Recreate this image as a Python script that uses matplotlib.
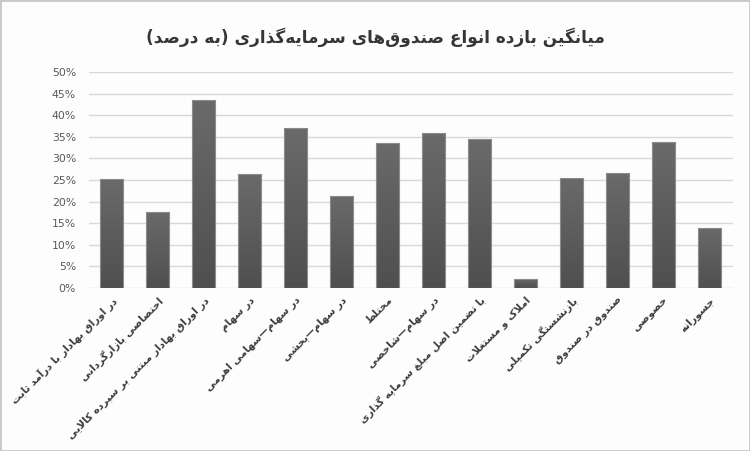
import numpy as np
import matplotlib
matplotlib.use('Agg')
from matplotlib import pyplot as plt
from matplotlib.colors import LinearSegmentedColormap
from matplotlib.patches import Rectangle
from matplotlib.ticker import PercentFormatter

title = 'میانگین بازده انواع صندوق\u200cهای سرمایه\u200cگذاری (به درصد)'
labels = [
    'در اوراق بهادار با درآمد ثابت',
    'اختصاصی بازارگردانی',
    'در اوراق بهادار مبتنی بر سپرده کالایی',
    'در سهام',
    'در سهام—سهامی اهرمی',
    'در سهام—بخشی',
    'مختلط',
    'در سهام—شاخصی',
    'با تضمین اصل مبلغ سرمایه گذاری',
    'املاک و مستغلات',
    'بازنشستگی تکمیلی',
    'صندوق در صندوق',
    'خصوصی',
    'جسورانه',
]
values = [0.252, 0.175, 0.434, 0.263, 0.370, 0.213, 0.335, 0.359,
          0.344, 0.022, 0.254, 0.267, 0.337, 0.139]
yticks = np.arange(0, 0.51, 0.05)

# no text shaping in matplotlib -> map letters to presentation forms by hand
DUAL = {'ب': 0xFE8F, 'ت': 0xFE95, 'ث': 0xFE99, 'ج': 0xFE9D, 'ح': 0xFEA1,
        'خ': 0xFEA5, 'س': 0xFEB1, 'ش': 0xFEB5, 'ص': 0xFEB9, 'ض': 0xFEBD,
        'ط': 0xFEC1, 'ظ': 0xFEC5, 'ع': 0xFEC9, 'غ': 0xFECD, 'ف': 0xFED1,
        'ق': 0xFED5, 'ل': 0xFEDD, 'م': 0xFEE1, 'ن': 0xFEE5, 'ه': 0xFEE9,
        'ی': 0xFBFC, 'ک': 0xFB8E, 'گ': 0xFB92, 'پ': 0xFB56, 'چ': 0xFB7A}
RIGHT = {'ا': 0xFE8D, 'آ': 0xFE81, 'د': 0xFEA9, 'ذ': 0xFEAB, 'ر': 0xFEAD,
         'ز': 0xFEAF, 'ژ': 0xFB8A, 'و': 0xFEED}


def fa(s):
    res = []
    i = 0
    n = len(s)
    while i < n:
        c = s[i]
        if c not in DUAL and c not in RIGHT:
            if c != '\u200c':
                res.append(c)
            i += 1
            continue
        prev = s[i - 1] if i > 0 else ''
        jp = prev in DUAL
        if c == 'ل' and i + 1 < n and s[i + 1] == 'ا':
            res.append('\uFEFC' if jp else '\uFEFB')
            i += 2
            continue
        nxt = s[i + 1] if i + 1 < n else ''
        jn = c in DUAL and (nxt in DUAL or nxt in RIGHT)
        b = DUAL.get(c, RIGHT.get(c))
        if jp and jn:
            b += 3
        elif jp:
            b += 1
        elif jn:
            b += 2
        res.append(chr(b))
        i += 1
    out = ''.join(res[::-1])
    return out.translate(str.maketrans('()', ')('))


plt.rcParams['font.family'] = ['DejaVu Sans']

fig = plt.figure(figsize=(7.5, 4.51), dpi=100, facecolor='#fdfdfd')
ax = fig.add_axes([0.118, 0.3614, 0.8587, 0.479])
ax.set_facecolor('#fdfdfd')

x = np.arange(len(values))
bars = ax.bar(x, values, width=0.5, color='none', edgecolor='#8c8c8c',
              linewidth=0.8, zorder=3)
cmap = LinearSegmentedColormap.from_list('g', ['#4f4f4f', '#6a6a6a'])
grad = np.linspace(0, 1, 256).reshape(-1, 1)
for b in bars:
    im = ax.imshow(grad, cmap=cmap, origin='lower', aspect='auto', zorder=2,
                   extent=[b.get_x(), b.get_x() + b.get_width(), 0, b.get_height()])
    im.set_clip_path(b)

ax.set_xlim(-0.5, len(values) - 0.5)
ax.set_ylim(0, 0.5)
ax.set_yticks(yticks)
ax.yaxis.set_major_formatter(PercentFormatter(1, decimals=0))
ax.grid(axis='y', color='#d9d9d9', linewidth=1)
ax.set_axisbelow(True)
for sp in ax.spines.values():
    sp.set_visible(False)
ax.tick_params(axis='y', length=0, pad=9, labelsize=7.8, labelcolor='#595959')
ax.tick_params(axis='x', length=0, pad=5)
ax.set_xticks(x)
ax.set_xticklabels([fa(l) for l in labels], rotation=45, ha='right', va='top',
                   rotation_mode='anchor', fontweight='bold', fontsize=7.5,
                   color='#3d3d3d')

fig.text(0.5, 0.918, fa(title), ha='center', va='center', fontsize=12.2,
         fontweight='bold', color='#363636')

fig.patches.append(Rectangle((0, 0), 1, 1, transform=fig.transFigure,
                             fill=False, edgecolor='#c8c8c8', linewidth=2))

fig.savefig('out.png', dpi=100, facecolor=fig.get_facecolor())
